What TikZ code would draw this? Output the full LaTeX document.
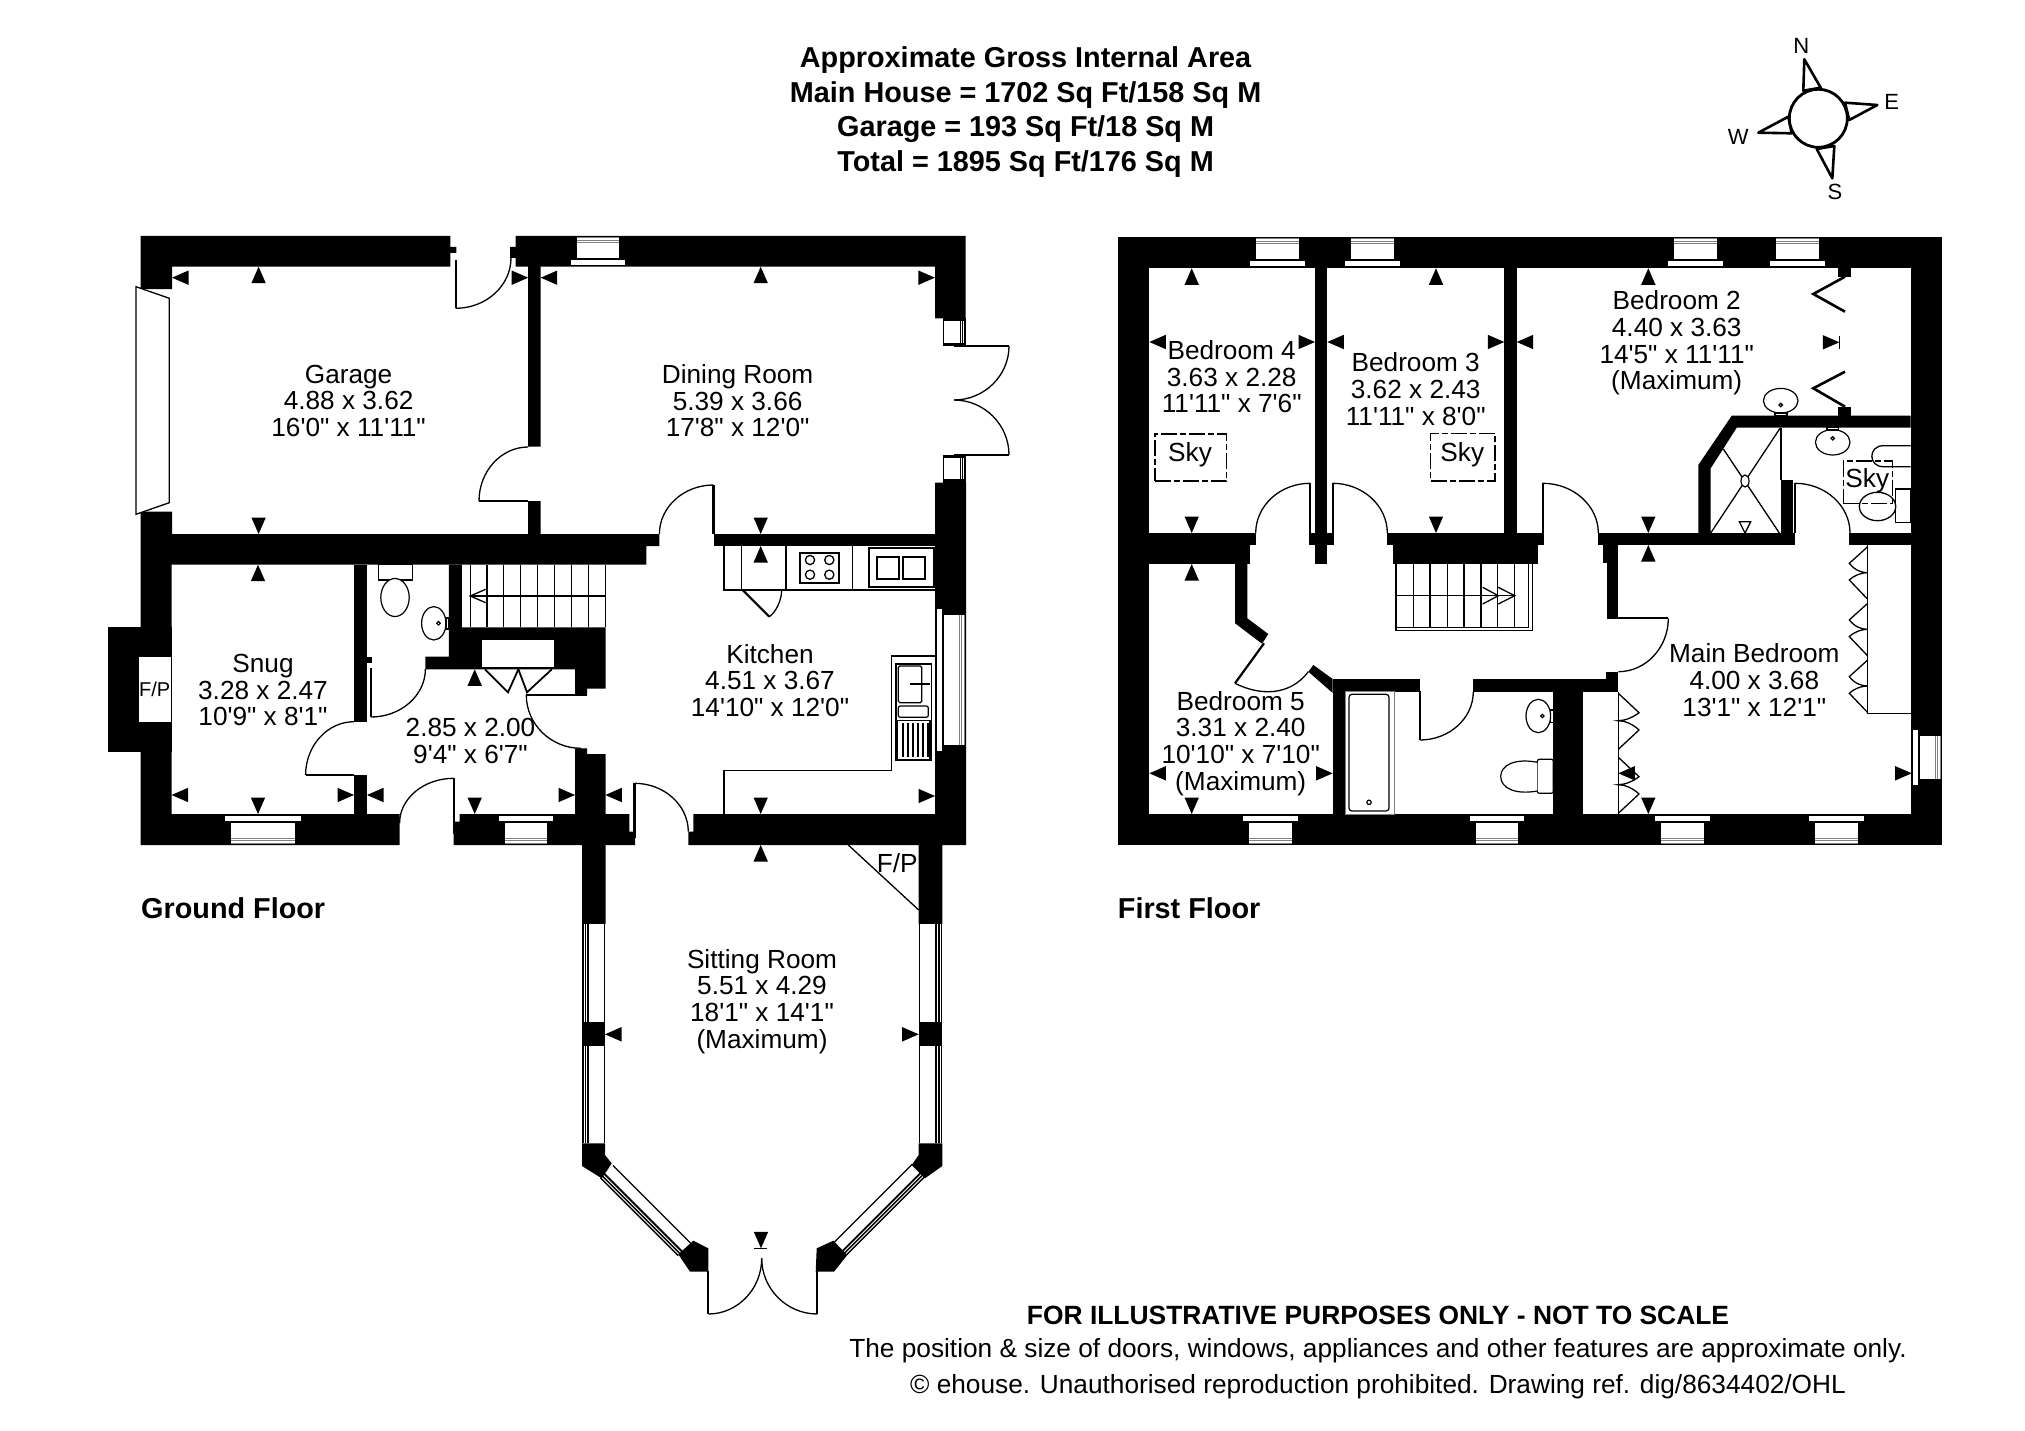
\documentclass[tikz,border=0pt]{standalone}
\usepackage{fontspec}
\usepackage{tikz}
\usetikzlibrary{calc}
\newfontfamily\planfont{Liberation Sans}

\tikzset{
    wallfill/.style={fill=black},
    thinline/.style={draw=black, line width=1.3},
    leafline/.style={draw=black, line width=2.2},
    unitline/.style={draw=black, line width=1.2, fill=white},
    roomlabel/.style={font=\planfont\fontsize{26.2}{26.7}\selectfont, align=center, inner sep=0pt},
    boldlabel/.style={font=\planfont\bfseries\fontsize{28.8}{34.6}\selectfont, align=center, inner sep=0pt},
    footlabel/.style={font=\planfont\fontsize{26.25}{27}\selectfont, inner sep=0pt},
    compasslabel/.style={font=\planfont\fontsize{22}{24}\selectfont, inner sep=0pt},
    skybox/.style={roomlabel, draw=black, line width=1.2, dash pattern=on 16pt off 3pt on 6pt off 3pt, fill=none},
}

% dimension tip: apex at (x,y), rotation 0 points up
\newcommand{\dimtip}[3]{\fill[shift={(#1,#2)}, rotate=#3] (0,0) -- (-7.2,16.5) -- (7.2,16.5) -- cycle;}
% window in a full wall: outer face at (x,y), half width of frame
\newcommand{\windowbar}[4]{
    \begin{scope}[shift={(#1,#2)}, rotate=#3]
        \fill[white] (-#4,1) rectangle (#4,22);
        \draw[gray, line width=1] (-#4,2) -- (#4,2) (-#4,4.2) -- (#4,4.2) (-#4,6.4) -- (#4,6.4);
        \fill[white] ({-#4-6},24) rectangle ({#4+6},29);
    \end{scope}
}
% bay window glazing: x, y, rotation, length, thickness
\newcommand{\bayglass}[5]{
    \begin{scope}[shift={(#1,#2)}, rotate=#3]
        \fill (0,0) rectangle (#4,-#5);
        \fill[white] (0,-7.3) rectangle (#4,{-#5+1.4});
        \draw[white, line width=0.9] (0,-2) -- (#4,-2) (0,-4.6) -- (#4,-4.6);
    \end{scope}
}
% door swing: start, corner, end
\newcommand{\doorarc}[3]{\draw[thinline] (#1) .. controls ($(#1)!0.55!(#2)$) and ($(#3)!0.55!(#2)$) .. (#3);}

\begin{document}
\begin{tikzpicture}[x=1pt, y=-1pt]
    \fill[white] (0,0) rectangle (2025,1431);
    \useasboundingbox (0,0) rectangle (2025,1431);

    % Ground floor walls
    \fill[wallfill] (140.7,236) -- (450.4,236) -- (450.4,247) -- (456.4,247) -- (456.4,253) -- (450.4,253) -- (450.4,266.7) -- (172,266.7) -- (172,289) -- (140.7,289) -- cycle;
    \fill[wallfill] (515.7,236) -- (965.6,236) -- (965.6,318.3) -- (935,318.3) -- (935,266.7) -- (540.7,266.7) -- (540.7,446.7) -- (528.2,446.7) -- (528.2,266.7) -- (515.7,266.7) -- (515.7,258) -- (510,258) -- (510,247) -- (515.7,247) -- cycle;
    \fill[wallfill] (140.7,511.7) -- (172,511.7) -- (172,534) -- (528.2,534) -- (528.2,501) -- (540.7,501) -- (540.7,534) -- (659.4,534) -- (659.4,546) -- (646.3,546) -- (646.3,564.7) -- (171.6,564.7) -- (171.6,814) -- (399.6,814) -- (399.6,845) -- (140.7,845) -- cycle;
    \fill[wallfill] (107.6,626.7) rectangle (172,752);
    \fill[wallfill] (354,564.7) rectangle (367,721.7);
    \fill[wallfill] (367,656.7) rectangle (372,663);
    \fill[wallfill] (354,775) rectangle (367,814);
    \fill[wallfill] (448.8,564.7) -- (461.6,564.7) -- (461.6,627.3) -- (605.5,627.3) -- (605.5,688.7) -- (587,688.7) -- (587,695) -- (575,695) -- (575,669.3) -- (425.4,669.3) -- (425.4,656.7) -- (448.8,656.7) -- cycle;
    \fill[white] (481.5,640) rectangle (553.9,667.3);
    \fill[wallfill] (575.2,748.3) -- (587,748.3) -- (587,754) -- (605.5,754) -- (605.5,814) -- (629.3,814) -- (629.3,831.7) -- (635,831.7) -- (635,845) -- (605.5,845) -- (605.5,924) -- (582,924) -- (582,845) -- (453.7,845) -- (453.7,821.7) -- (459.5,821.7) -- (459.5,814) -- (575.2,814) -- cycle;
    \fill[wallfill] (693.3,814) -- (935,814) -- (935,482.7) -- (966,482.7) -- (966,845) -- (942.3,845) -- (942.3,924) -- (918.7,924) -- (918.7,845) -- (688.3,845) -- (688.3,831.7) -- (693.3,831.7) -- cycle;
    \fill[wallfill] (713.5,534) rectangle (935,546);

    % Garage front
    \draw[thinline, fill=white] (136,286.7) -- (169.3,298.3) -- (169.3,502.7) -- (136,514.3) -- cycle;

    % Ground floor windows
    \windowbar{597.5}{236}{0}{21}
    \windowbar{263}{845}{180}{32}
    \windowbar{525.8}{845}{180}{21}
    \windowbar{966}{680}{-90}{65}
    \foreach \wy in {318.3,455} {
        \fill[wallfill] (942.5,\wy) rectangle (965.6,\wy+27.7);
        \fill[white] (943.8,\wy+3) rectangle (959.7,\wy+24.4);
        \draw[white, line width=0.9] (961.6,\wy+3) -- (961.6,\wy+24.4) (963.8,\wy+3) -- (963.8,\wy+24.4);
    }

    % Sitting room bay
    \bayglass{582}{924}{-90}{98.3}{23}
    \bayglass{582}{1045.7}{-90}{97.6}{23}
    \bayglass{942.3}{1022.3}{90}{98.3}{23.6}
    \bayglass{942.3}{1143.3}{90}{97.6}{23.6}
    \fill[wallfill] (582,1022.3) rectangle (605,1045.7);
    \fill[wallfill] (918.7,1022.3) rectangle (942.3,1045.7);
    \bayglass{600}{1178.3}{-45}{110}{18.8}
    \bayglass{847.3}{1255}{45}{110}{18.8}
    \fill[wallfill] (582,1143.3) -- (605,1143.3) -- (605,1155) -- (611.7,1163.3) -- (601.7,1178.3) -- (582,1166) -- cycle;
    \fill[wallfill] (678.3,1254.3) -- (693.3,1240.7) -- (708.3,1248.3) -- (708.3,1271.7) -- (690,1271.7) -- cycle;
    \fill[wallfill] (918.7,1143.3) -- (942.3,1143.3) -- (942.3,1166) -- (925,1178.3) -- (911.7,1165) -- (918.7,1155) -- cycle;
    \fill[wallfill] (816.7,1248.3) -- (833.3,1240.7) -- (847.3,1255) -- (834,1271.7) -- (815.7,1271.7) -- cycle;
    \draw[thinline] (848.3,845) -- (918.7,910);

    % Ground floor doors
    \draw[leafline] (455.7,260) -- (455.7,308.3);
    \doorarc{455.7,308.3}{511,308.3}{511,258}
    \draw[leafline] (479,501) -- (528.2,501);
    \doorarc{479,501}{479,447}{528.2,447}
    \draw[leafline] (713.5,485) -- (713.5,534);
    \doorarc{713.5,485}{659.4,485}{659.4,534}
    \draw[leafline] (954,346) -- (1009,346);
    \doorarc{1009,346}{1009,400}{954,400}
    \draw[leafline] (954,455) -- (1009,455);
    \doorarc{1009,455}{1009,400}{954,400}
    \draw[leafline] (371,668) -- (371,717);
    \doorarc{371,717}{425.4,717}{425.4,669}
    \draw[leafline] (305.6,775) -- (354,775);
    \doorarc{305.6,775}{305.6,721.7}{354,721.7}
    \draw[leafline] (453.7,778.3) -- (453.7,834);
    \doorarc{453.7,778.3}{399.6,778.3}{399.6,823}
    \draw[leafline] (634.5,783.3) -- (634.5,838);
    \doorarc{634.5,783.3}{688.3,783.3}{688.3,831.7}
    \draw[leafline] (526.3,695) -- (587,695);
    \doorarc{526.3,695}{526.3,748.3}{581,748.3}
    \draw[leafline] (708.3,1271) -- (708.3,1314);
    \doorarc{708.3,1314}{761.7,1314}{761.7,1258.3}
    \draw[leafline] (817.3,1271) -- (817.3,1314);
    \doorarc{817.3,1314}{761.7,1314}{761.7,1258.3}
    % Cupboard doors
    \draw[thinline, line width=1.8] (485,669.3) -- (508,692.3) -- (518.4,669.3);
    \draw[thinline, line width=1.8] (518.4,669.3) -- (527,692.3) -- (551.8,669.3);

    % Ground floor stairs
    \foreach \sx in {461.6,470.2,487,503.6,520.8,537.3,554.5,571.7,588.3,605.5} {
        \draw[thinline] (\sx,564.7) -- (\sx,627.3);
    }
    \draw[thinline] (470.2,596) -- (605.5,596);
    \draw[thinline] (485.7,589.3) -- (470.2,596) -- (485.7,602.7);

    % WC
    \draw[unitline] (378.2,564.7) rectangle (412.7,580);
    \draw[unitline] (395,597.5) ellipse [x radius=14.2, y radius=19];
    \draw[unitline] (433.8,623.3) ellipse [x radius=12.2, y radius=16.7];
    \draw[unitline] (438.5,623.3) circle (1.8);
    \draw[thinline] (446,618) rectangle (448.8,629);

    % Kitchen units
    \draw[thinline] (724,546) -- (724,590) -- (935,590);
    \foreach \ux in {741.7,786,852.7} {
        \draw[thinline] (\ux,546) -- (\ux,590);
    }
    \draw[leafline] (742.7,590) -- (769.3,616.7);
    \doorarc{769.3,616.7}{781.7,608}{781.7,590}
    \draw[unitline, line width=1.7] (800,552.7) rectangle (838.7,582.7);
    \foreach \hx/\hy in {810/560,829.3/560,810/574.7,829.3/574.7} {
        \draw[thinline] (\hx,\hy) circle (4.6);
    }
    \draw[unitline, line width=1.7] (869,548.3) rectangle (934,587.3);
    \draw[unitline, line width=1.7] (876.7,556.7) rectangle (899.3,579.3);
    \draw[unitline, line width=1.7] (902.7,556.7) rectangle (925,579.3);
    \draw[thinline] (724,814) -- (724,770.7) -- (891.7,770.7) -- (891.7,656) -- (935,656);
    \draw[unitline] (896,664) rectangle (931.7,760.7);
    \draw[unitline, rounded corners=1.5] (898.3,666) rectangle (921.7,702.7);
    \draw[unitline, rounded corners=2] (898.3,706) rectangle (928.3,717.3);
    \draw[unitline] (897.7,720.7) rectangle (930,759.3);
    \foreach \dx in {903,908,913,918,923,928} {
        \draw[thinline] (\dx,723) -- (\dx,757);
    }
    \draw[draw=black, line width=2] (910,684) -- (930,684);

    % First floor walls
    \fill[wallfill] (1118.3,237) rectangle (1942,268.3);
    \fill[wallfill] (1118.3,237) rectangle (1149.3,845);
    \fill[wallfill] (1118.3,814) rectangle (1942,845);
    \fill[wallfill] (1910.7,237) rectangle (1942,845);
    \fill[wallfill] (1315,268.3) rectangle (1327.3,564);
    \fill[wallfill] (1309,533) rectangle (1334,545);
    \fill[wallfill] (1504.3,268.3) rectangle (1516.7,533);
    \fill[wallfill] (1149.3,533) rectangle (1255.7,545);
    \fill[wallfill] (1149.3,545) rectangle (1250,564);
    \fill[wallfill] (1387.3,533) rectangle (1544,545);
    \fill[wallfill] (1393.3,545) rectangle (1537.7,564);
    \fill[wallfill] (1598.3,533) rectangle (1795,545);
    \fill[wallfill] (1602.7,545) rectangle (1618.3,563);
    \fill[wallfill] (1606.7,563) rectangle (1618.3,618.3);
    \fill[wallfill] (1849.3,533) rectangle (1910.7,545);
    \fill[wallfill] (1698.3,533) -- (1698.3,465) -- (1731.7,415.7) -- (1910.7,415.7) -- (1910.7,427.7) -- (1736.7,427.7) -- (1710.7,468.3) -- (1710.7,533) -- cycle;
    \fill[wallfill] (1781,480) rectangle (1792.7,533);
    \fill[wallfill] (1235,564) -- (1247.3,564) -- (1247.3,618.3) -- (1268.3,634) -- (1262,643.7) -- (1235,623.3) -- cycle;
    \fill[wallfill] (1313.3,665) -- (1332.7,679) -- (1332.7,693) -- (1308.3,671.7) -- cycle;
    \fill[wallfill] (1332.7,679) rectangle (1420,691.7);
    \fill[wallfill] (1473.3,679) rectangle (1606,691.7);
    \fill[wallfill] (1606,671.7) rectangle (1618.3,691.7);
    \fill[wallfill] (1332.7,679) rectangle (1345,814);
    \fill[wallfill] (1553.3,691.7) rectangle (1583.3,814);
    \fill[wallfill] (1838.3,268.3) rectangle (1850.7,276.7);
    \fill[wallfill] (1838.3,406.7) rectangle (1850.7,415.7);

    % First floor windows
    \foreach \wx in {1277.8,1372.5,1695.7,1797.8} {
        \windowbar{\wx}{237}{0}{21.4}
    }
    \foreach \wx in {1270.5,1497,1682.5,1836.7} {
        \windowbar{\wx}{845}{180}{21.4}
    }
    \windowbar{1942}{757.8}{-90}{21.4}

    % First floor doors
    \draw[leafline] (1310,483.3) -- (1310,533);
    \doorarc{1310,483.3}{1255.7,483.3}{1255.7,533}
    \draw[leafline] (1332.7,483.3) -- (1332.7,533);
    \doorarc{1332.7,483.3}{1387.3,483.3}{1387.3,533}
    \draw[leafline] (1542.7,483.3) -- (1542.7,533);
    \doorarc{1542.7,483.3}{1598.3,483.3}{1598.3,533}
    \draw[leafline] (1795,483.3) -- (1795,533);
    \doorarc{1795,483.3}{1850,483.3}{1850,533}
    \draw[leafline] (1606.7,618.3) -- (1668.3,618.3);
    \doorarc{1668.3,618.3}{1668.3,671.7}{1618.3,671.7}
    \draw[leafline] (1420,691) -- (1420,740);
    \doorarc{1420,740}{1473.3,740}{1473.3,691.7}
    \draw[leafline] (1264,643.3) -- (1235,683.3);
    \draw[thinline] (1235,683.3) .. controls (1260,696) and (1290,696) .. (1308.3,671.7);

    % First floor stairs
    \foreach \sx in {1396,1413.3,1430,1447.3,1464,1481,1497.7,1514.7} {
        \draw[thinline] (\sx,564) -- (\sx,627.3);
    }
    \draw[thinline] (1396,564) -- (1396,630.7) -- (1532.7,630.7) -- (1532.7,564);
    \draw[thinline] (1396,627.3) -- (1528.3,627.3) -- (1528.3,564);
    \draw[thinline] (1396,595.7) -- (1514.7,595.7);
    \draw[thinline] (1482.7,587.3) -- (1498.3,595.7) -- (1482.7,604);
    \draw[thinline] (1498.3,587.3) -- (1514.7,595.7) -- (1498.3,604);

    % Bathroom
    \draw[draw=gray, line width=1] (1345,691.7) rectangle (1394,814);
    \draw[unitline, rounded corners=3] (1349,694.3) rectangle (1389,811);
    \draw[unitline] (1369,802.3) circle (2.2);
    \draw[unitline] (1538.3,716) ellipse [x radius=12.3, y radius=16.7];
    \draw[unitline] (1542.3,716) circle (1.7);
    \draw[thinline] (1550.6,710) rectangle (1553.3,722.7);
    \draw[unitline, rounded corners=2] (1537.3,759.3) rectangle (1553.3,793.3);
    \draw[unitline] (1537.3,762.3) .. controls (1515,758) and (1500.7,765) .. (1500.7,776.5) .. controls (1500.7,788) and (1515,795) .. (1537.3,791);

    % Basins and en suite
    \draw[unitline] (1780.7,400.7) ellipse [x radius=17.3, y radius=12.3];
    \draw[unitline] (1780.7,405) circle (1.7);
    \draw[thinline] (1775,413) rectangle (1787,415.7);
    \draw[unitline] (1832.7,442.3) ellipse [x radius=17.3, y radius=12.7];
    \draw[unitline] (1832.7,438.3) circle (1.7);
    \draw[thinline] (1827,427.7) rectangle (1838.5,430);
    \draw[thinline] (1910.7,445.7) -- (1883.3,445.7) .. controls (1868,445.7) and (1868,466.7) .. (1883.3,466.7) -- (1910.7,466.7);
    \draw[unitline] (1895.7,489) rectangle (1910.7,522.3);
    \draw[thinline] (1877.5,506.5) ellipse [x radius=18.2, y radius=14.2];

    % Shower
    \draw[thinline] (1781,427.7) -- (1781,480);
    \draw[thinline] (1723.3,449) -- (1779.3,533);
    \draw[thinline] (1780,428.3) -- (1710.7,533);
    \draw[unitline] (1745,481) ellipse [x radius=4, y radius=6];
    \draw[thinline] (1739.3,521.7) -- (1750.7,521.7) -- (1745,533) -- cycle;

    % Wardrobes
    \draw[thinline] (1867.7,545) -- (1867.7,713.3) -- (1910.7,713.3);
    \draw[thinline] (1618.3,691.7) -- (1618.3,814);
    \foreach \zy in {546.7,603.3,660} {
        \draw[thinline] (1867.7,\zy) -- (1849.3,\zy+16.6) .. controls (1855,\zy+24) and (1862,\zy+26) .. (1867.7,\zy+26) .. controls (1862,\zy+26) and (1855,\zy+28) .. (1849.3,\zy+33.3) -- (1867.7,\zy+52.6);
    }
    \foreach \zy in {693.3,757.3} {
        \draw[thinline] (1618.3,\zy) -- (1639,\zy+19.4) .. controls (1633,\zy+24) and (1625,\zy+27.4) .. (1618.3,\zy+27.4) .. controls (1625,\zy+27.4) and (1633,\zy+31) .. (1639,\zy+36.7) -- (1618.3,\zy+56);
    }
    \draw[leafline, line width=2.6] (1845,276.7) -- (1813.3,294) -- (1845,311.7);
    \draw[leafline, line width=2.6] (1845,371.7) -- (1813.3,388.3) -- (1845,406.7);

    % Dimension tips
    \foreach \tx/\ty/\tr in {172/277.7/90, 258.6/266.7/0, 258.6/534/180, 528.2/277.7/-90, 540.7/277.7/90, 760.7/266.7/0, 934.9/277.7/-90, 760.7/534/180, 760.7/546/0,
        171.6/795/90, 258/564.7/0, 258/814/180, 354/795/-90, 367/795/90, 474.7/814/180, 474.7/669.3/0, 575/795/-90, 605.3/795/90, 760.7/814/180, 935/796/-90,
        760.7/845/0, 605/1034.3/90, 918.7/1034.3/-90, 761/1248.3/180,
        1191.7/268.3/0, 1191.7/533/180, 1149.3/342/90, 1315/342/-90, 1327.3/342/90, 1436/268.3/0, 1436/533/180, 1504.3/342/-90, 1516.7/342/90,
        1648.3/268.3/0, 1648.3/533/180, 1648.3/545/0, 1839.3/342.3/-90, 1191.7/564/0, 1149.3/773.3/90, 1332.7/773.3/-90, 1191.7/814/180,
        1618.3/773.3/90, 1648.3/814/180, 1911.7/773.3/-90} {
        \dimtip{\tx}{\ty}{\tr}
    }
    \draw[thinline] (1839.3,335.5) -- (1839.3,349);
    \draw[thinline] (754,1248.3) -- (767.3,1248.3);

    % Room labels
    \node[roomlabel] (garage) at (348.6,400.7) {Garage\\4.88 x 3.62\\16'0" x 11'11"};
    \node[roomlabel] (dining) at (737.6,400.7) {Dining Room\\5.39 x 3.66\\17'8" x 12'0"};
    \node[roomlabel] (snug) at (263,690) {Snug\\3.28 x 2.47\\10'9" x 8'1"};
    \node[roomlabel] (hall) at (470.5,741) {2.85 x 2.00\\9'4" x 6'7"};
    \node[roomlabel] (kitchen) at (770,680.5) {Kitchen\\4.51 x 3.67\\14'10" x 12'0"};
    \node[roomlabel] (sitting) at (762,1001.5) {Sitting Room\\5.51 x 4.29\\18'1" x 14'1"\\(Maximum)};
    \node[roomlabel] (bedfour) at (1231.7,376.7) {Bedroom 4\\3.63 x 2.28\\11'11" x 7'6"};
    \node[roomlabel] (bedthree) at (1415.7,389) {Bedroom 3\\3.62 x 2.43\\11'11" x 8'0"};
    \node[roomlabel] (bedtwo) at (1676.7,343) {Bedroom 2\\4.40 x 3.63\\14'5" x 11'11"\\(Maximum)};
    \node[roomlabel] (bedfive) at (1240.7,743.5) {Bedroom 5\\3.31 x 2.40\\10'10" x 7'10"\\(Maximum)};
    \node[roomlabel] (mainbed) at (1754.3,680.3) {Main Bedroom\\4.00 x 3.68\\13'1" x 12'1"};

    % Fireplaces and skylights
    \node[roomlabel, fill=white, font=\planfont\fontsize{20}{22}\selectfont, minimum width=31.7, minimum height=64.4] (snugfire) at (154.7,689.5) {F/P};
    \node[roomlabel] (sittingfire) at (897.3,862.7) {F/P};
    \node[skybox, minimum width=71.7, minimum height=47] (skyfour) at (1190.8,457.5) {};
    \node[roomlabel] (skyfourtext) at (1190,455) {Sky};
    \node[skybox, minimum width=64.3, minimum height=47.7] (skythree) at (1462.8,457.2) {};
    \node[roomlabel] (skythreetext) at (1462.3,455) {Sky};
    \node[skybox, minimum width=49, minimum height=42.3] (skyensuite) at (1867.8,482.2) {};
    \node[roomlabel] (skyensuitetext) at (1867.3,481) {Sky};

    % Headings
    \node[boldlabel] (area) at (1025.6,112) {Approximate Gross Internal Area\\Main House = 1702 Sq Ft/158 Sq M\\Garage = 193 Sq Ft/18 Sq M\\Total = 1895 Sq Ft/176 Sq M};
    \node[boldlabel, anchor=west] (groundfloor) at (141,908) {Ground Floor};
    \node[boldlabel, anchor=west] (firstfloor) at (1117.7,908) {First Floor};
    \node[footlabel, font=\planfont\bfseries\fontsize{26.4}{27}\selectfont] (footone) at (1378,1315) {FOR ILLUSTRATIVE PURPOSES ONLY - NOT TO SCALE};
    \node[footlabel] (foottwo) at (1378,1350.5) {The position \& size of doors, windows, appliances and other features are approximate only.};
    \node[footlabel] (footthree) at (1378,1386.5) {© ehouse. Unauthorised reproduction prohibited. Drawing ref. dig/8634402/OHL};

    % Compass
    \draw[draw=black, line width=2.6, line join=round, fill=white] (1804.3,59.3) -- (1803.3,90.7) -- (1820.7,87.7) -- cycle;
    \draw[draw=black, line width=2.6, line join=round, fill=white] (1877.3,105) -- (1845,102.7) -- (1849.3,120) -- cycle;
    \draw[draw=black, line width=2.6, line join=round, fill=white] (1832.3,178.3) -- (1834.3,146) -- (1816.7,149) -- cycle;
    \draw[draw=black, line width=2.6, line join=round, fill=white] (1758.3,132.7) -- (1788.3,116.7) -- (1791.7,133.3) -- cycle;
    \draw[draw=black, line width=2.8, fill=white] (1818.3,118.3) circle (29);
    \node[compasslabel] (north) at (1801.3,45.7) {N};
    \node[compasslabel] (east) at (1891.7,101.7) {E};
    \node[compasslabel] (south) at (1835,192.3) {S};
    \node[compasslabel] (west) at (1738.3,137.3) {W};
\end{tikzpicture}
\end{document}
